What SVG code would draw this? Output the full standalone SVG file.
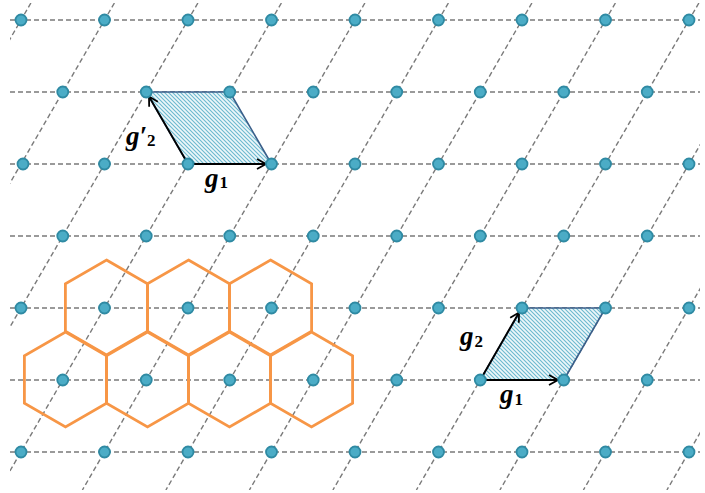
<svg xmlns="http://www.w3.org/2000/svg" width="705" height="493" viewBox="0 0 705 493">
<style>
.grid{stroke:#7a7a7a;stroke-width:1.4;stroke-dasharray:5 3;fill:none}
.dot{fill:#4bacc6;stroke:#2f8aa3;stroke-width:1.8}
.hex{fill:none;stroke:#f79646;stroke-width:2.8;stroke-linejoin:miter}
.cell{fill:url(#hatch);stroke:#3a5f8a;stroke-width:1.6;stroke-linejoin:round}
.vec{stroke:#000;stroke-width:1.8;fill:none;marker-end:url(#arr)}
.lbl{font-family:"Liberation Serif","DejaVu Serif",serif;font-weight:bold;font-style:italic;font-size:27px;fill:#000}
.sub{font-size:17px;font-style:normal}
</style>
<defs>
<clipPath id="clip"><rect x="10" y="3" width="690" height="487"/></clipPath>
<pattern id="hatch" patternUnits="userSpaceOnUse" width="4" height="4">
<rect width="4" height="4" fill="#eef7fa"/>
<path d="M-1,-1 L5,5 M3,-1 L5,1 M-1,3 L1,5" stroke="#6cb9cf" stroke-width="1.1"/>
</pattern>
<marker id="arr" markerWidth="12" markerHeight="12" refX="10" refY="6" orient="auto" markerUnits="userSpaceOnUse">
<path d="M1,1 L10,6 L1,11" fill="none" stroke="#000" stroke-width="1.8"/>
</marker>
</defs>
<rect width="705" height="493" fill="#fff"/>
<g id="lattice-lines" clip-path="url(#clip)">
<line class="grid" x1="10" y1="20" x2="700" y2="20"/>
<line class="grid" x1="10" y1="92" x2="700" y2="92"/>
<line class="grid" x1="10" y1="164" x2="700" y2="164"/>
<line class="grid" x1="10" y1="236" x2="700" y2="236"/>
<line class="grid" x1="10" y1="308" x2="700" y2="308"/>
<line class="grid" x1="10" y1="380" x2="700" y2="380"/>
<line class="grid" x1="10" y1="452" x2="700" y2="452"/>
<line class="grid" x1="30.9" y1="3" x2="-251.6" y2="490"/>
<line class="grid" x1="114.4" y1="3" x2="-168.1" y2="490"/>
<line class="grid" x1="197.9" y1="3" x2="-84.6" y2="490"/>
<line class="grid" x1="281.4" y1="3" x2="-1.1" y2="490"/>
<line class="grid" x1="364.9" y1="3" x2="82.4" y2="490"/>
<line class="grid" x1="448.4" y1="3" x2="165.9" y2="490"/>
<line class="grid" x1="531.9" y1="3" x2="249.4" y2="490"/>
<line class="grid" x1="615.4" y1="3" x2="332.9" y2="490"/>
<line class="grid" x1="698.9" y1="3" x2="416.4" y2="490"/>
<line class="grid" x1="782.4" y1="3" x2="499.9" y2="490"/>
<line class="grid" x1="865.9" y1="3" x2="583.4" y2="490"/>
<line class="grid" x1="949.4" y1="3" x2="666.9" y2="490"/>
</g>
<g id="cell-top">
<polygon class="cell" points="146.25,92 229.75,92 271.5,164 188,164"/>
</g>
<g id="cell-bottom">
<polygon class="cell" points="480.25,380 563.75,380 605.5,308 522,308"/>
</g>
<g id="hexagons">
<polygon class="hex" points="106.5,260 147.6,283.75 147.6,331.25 106.5,355 65.4,331.25 65.4,283.75"/>
<polygon class="hex" points="188.5,260 229.6,283.75 229.6,331.25 188.5,355 147.4,331.25 147.4,283.75"/>
<polygon class="hex" points="270.5,260 311.6,283.75 311.6,331.25 270.5,355 229.4,331.25 229.4,283.75"/>
<polygon class="hex" points="65.5,332 106.6,355.75 106.6,403.25 65.5,427 24.4,403.25 24.4,355.75"/>
<polygon class="hex" points="147.5,332 188.6,355.75 188.6,403.25 147.5,427 106.4,403.25 106.4,355.75"/>
<polygon class="hex" points="229.5,332 270.6,355.75 270.6,403.25 229.5,427 188.4,403.25 188.4,355.75"/>
<polygon class="hex" points="311.5,332 352.6,355.75 352.6,403.25 311.5,427 270.4,403.25 270.4,355.75"/>
</g>
<g id="connectors">
<line class="vec" x1="188" y1="164" x2="266" y2="164"/>
<line class="vec" x1="188" y1="164" x2="149" y2="96.5"/>
<line class="vec" x1="480.25" y1="380" x2="558" y2="380"/>
<line class="vec" x1="480.25" y1="380" x2="519" y2="312.5"/>
</g>
<g id="lattice-points">
<circle class="dot" cx="21" cy="20" r="5.5"/><circle class="dot" cx="104.5" cy="20" r="5.5"/><circle class="dot" cx="188" cy="20" r="5.5"/><circle class="dot" cx="271.5" cy="20" r="5.5"/><circle class="dot" cx="355" cy="20" r="5.5"/><circle class="dot" cx="438.5" cy="20" r="5.5"/><circle class="dot" cx="522" cy="20" r="5.5"/><circle class="dot" cx="605.5" cy="20" r="5.5"/><circle class="dot" cx="689" cy="20" r="5.5"/>
<circle class="dot" cx="62.75" cy="92" r="5.5"/><circle class="dot" cx="146.25" cy="92" r="5.5"/><circle class="dot" cx="229.75" cy="92" r="5.5"/><circle class="dot" cx="313.25" cy="92" r="5.5"/><circle class="dot" cx="396.75" cy="92" r="5.5"/><circle class="dot" cx="480.25" cy="92" r="5.5"/><circle class="dot" cx="563.75" cy="92" r="5.5"/><circle class="dot" cx="647.25" cy="92" r="5.5"/>
<circle class="dot" cx="23" cy="164" r="5.5"/><circle class="dot" cx="104.5" cy="164" r="5.5"/><circle class="dot" cx="188" cy="164" r="5.5"/><circle class="dot" cx="271.5" cy="164" r="5.5"/><circle class="dot" cx="355" cy="164" r="5.5"/><circle class="dot" cx="438.5" cy="164" r="5.5"/><circle class="dot" cx="522" cy="164" r="5.5"/><circle class="dot" cx="605.5" cy="164" r="5.5"/><circle class="dot" cx="689" cy="164" r="5.5"/>
<circle class="dot" cx="62.75" cy="236" r="5.5"/><circle class="dot" cx="146.25" cy="236" r="5.5"/><circle class="dot" cx="229.75" cy="236" r="5.5"/><circle class="dot" cx="313.25" cy="236" r="5.5"/><circle class="dot" cx="396.75" cy="236" r="5.5"/><circle class="dot" cx="480.25" cy="236" r="5.5"/><circle class="dot" cx="563.75" cy="236" r="5.5"/><circle class="dot" cx="647.25" cy="236" r="5.5"/>
<circle class="dot" cx="21" cy="308" r="5.5"/><circle class="dot" cx="104.5" cy="308" r="5.5"/><circle class="dot" cx="188" cy="308" r="5.5"/><circle class="dot" cx="271.5" cy="308" r="5.5"/><circle class="dot" cx="355" cy="308" r="5.5"/><circle class="dot" cx="438.5" cy="308" r="5.5"/><circle class="dot" cx="522" cy="308" r="5.5"/><circle class="dot" cx="605.5" cy="308" r="5.5"/><circle class="dot" cx="689" cy="308" r="5.5"/>
<circle class="dot" cx="62.75" cy="380" r="5.5"/><circle class="dot" cx="146.25" cy="380" r="5.5"/><circle class="dot" cx="229.75" cy="380" r="5.5"/><circle class="dot" cx="313.25" cy="380" r="5.5"/><circle class="dot" cx="396.75" cy="380" r="5.5"/><circle class="dot" cx="480.25" cy="380" r="5.5"/><circle class="dot" cx="563.75" cy="380" r="5.5"/><circle class="dot" cx="647.25" cy="380" r="5.5"/>
<circle class="dot" cx="21" cy="452" r="5.5"/><circle class="dot" cx="104.5" cy="452" r="5.5"/><circle class="dot" cx="188" cy="452" r="5.5"/><circle class="dot" cx="271.5" cy="452" r="5.5"/><circle class="dot" cx="355" cy="452" r="5.5"/><circle class="dot" cx="438.5" cy="452" r="5.5"/><circle class="dot" cx="522" cy="452" r="5.5"/><circle class="dot" cx="605.5" cy="452" r="5.5"/><circle class="dot" cx="689" cy="452" r="5.5"/>
</g>
<g id="labels">
<text class="lbl" x="126" y="145">g′<tspan class="sub" dy="1">2</tspan></text>
<text class="lbl" x="205" y="187">g<tspan class="sub" dx="1" dy="1">1</tspan></text>
<text class="lbl" x="460" y="345">g<tspan class="sub" dx="1" dy="2">2</tspan></text>
<text class="lbl" x="500" y="403">g<tspan class="sub" dx="1" dy="2">1</tspan></text>
</g>
</svg>
